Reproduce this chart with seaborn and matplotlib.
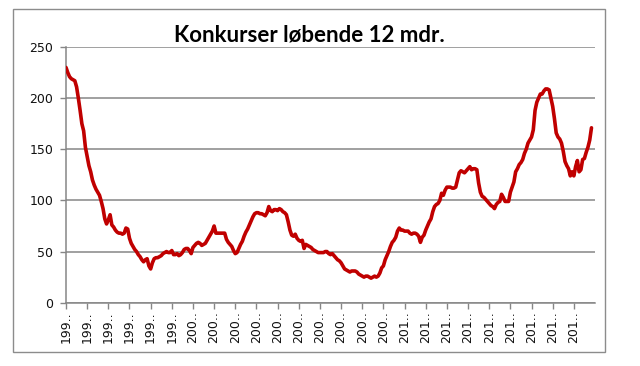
import matplotlib
matplotlib.use("Agg")
import matplotlib.pyplot as plt
import seaborn as sns
import pandas as pd
from matplotlib.patches import Rectangle

title = "Konkurser løbende 12 mdr."

# monthly values (running 12-month count)
values_1990s = [
    230, 225, 221, 219, 218, 217, 211, 200, 188, 175, 168, 152,
    143, 134, 128, 120, 115, 111, 108, 105, 99, 92, 82, 77,
    81, 86, 76, 74, 71, 69, 68, 68, 67, 68, 73, 72,
    63, 58, 55, 52, 50, 47, 45, 42, 40, 42, 43, 36,
    33, 39, 43, 44, 44, 45, 46, 48, 49, 50, 49, 49,
    51, 47, 47, 48, 46, 47, 49, 52, 53, 53, 51, 48,
]
values_2000s = [
    54, 56, 58, 59, 58, 56, 57, 58, 61, 64, 67, 70,
    75, 68, 68, 68, 68, 68, 68, 62, 59, 57, 55, 51,
    48, 49, 53, 57, 60, 65, 69, 72, 76, 80, 84, 87,
    88, 88, 87, 87, 86, 85, 88, 94, 90, 89, 91, 91,
    90, 92, 91, 89, 88, 86, 79, 71, 66, 65, 67, 63,
    61, 60, 61, 53, 57, 56, 55, 54, 52, 51, 50, 49,
    49, 49, 49, 50, 50, 48, 47, 48, 46, 44, 42, 41,
    39, 36, 33, 32, 31, 30, 31, 31, 31, 30, 28, 27,
    26, 25, 26, 26, 25, 24, 25, 26, 25, 26, 29, 34,
    36, 42, 46, 50, 55, 59, 61, 64, 70, 73, 71, 71,
]
values_2010s = [
    70, 70, 70, 68, 67, 68, 68, 67, 65, 59, 64, 66,
    71, 75, 79, 82, 89, 94, 96, 97, 100, 107, 105, 110,
    113, 113, 113, 112, 112, 113, 120, 127, 129, 128, 127, 129,
    131, 133, 130, 131, 131, 130, 117, 108, 104, 103, 101, 99,
    97, 95, 94, 92, 96, 98, 99, 106, 103, 99, 99, 99,
    108, 113, 118, 128, 131, 135, 137, 140, 146, 150, 156, 159,
    162, 169, 188, 196, 200, 204, 204, 207, 209, 209, 208, 200,
    192, 180, 166, 162, 160, 156, 148, 138, 134, 131, 124, 128,
    124, 133, 139, 128, 130, 140, 141, 147, 152, 159, 171,
]

tick_labels = ["199.."] * 6 + ["200.."] * 10 + ["201.."] * 9
y_ticks = [0, 50, 100, 150, 200, 250]

values = values_1990s + values_2000s + values_2010s
df = pd.DataFrame({"month": range(len(values)), "konkurser": values})

sns.set_style("white")
plt.rcParams["font.family"] = ["DejaVu Sans"]

W, H = 640, 366
fig = plt.figure(figsize=(W / 100, H / 100), dpi=100)
left, right, top, bottom = 66, 595, 47, 302.7
ax = fig.add_axes([left / W, 1 - bottom / H, (right - left) / W, (bottom - top) / H])

sns.lineplot(data=df, x="month", y="konkurser", ax=ax, color="#C00000",
             linewidth=2.6, zorder=3)

ax.set_xlim(0, 300)
ax.set_ylim(0, 250)
ax.set_yticks(y_ticks)
ax.set_yticklabels([str(v) for v in y_ticks])
ax.set_xticks(range(0, 12 * len(tick_labels), 12))
ax.set_xticklabels(tick_labels, rotation=90)
ax.set_xlabel("")
ax.set_ylabel("")

ax.yaxis.grid(True, color="#868686", linewidth=1.1)
ax.xaxis.grid(False)
for s in ["top", "right"]:
    ax.spines[s].set_visible(False)
for s in ["left", "bottom"]:
    ax.spines[s].set_color("#868686")
    ax.spines[s].set_linewidth(1.1)

ax.tick_params(axis="y", direction="out", length=4, width=1, color="#868686",
               labelsize=9, pad=5, labelcolor="#111111", left=True)
ax.tick_params(axis="x", direction="out", length=4, width=1, color="#868686",
               labelsize=9, pad=2, labelcolor="#111111", bottom=True)

fig.text(309 / W, 1 - 35 / H, title, ha="center", va="center", color="black",
         fontsize=16, fontweight="bold", family=["Lato", "DejaVu Sans"])

fig.add_artist(Rectangle((13 / W, 1 - 352 / H), (605 - 13) / W, (352 - 9) / H,
                         transform=fig.transFigure, fill=False,
                         edgecolor="#8c8c8c", linewidth=1))

fig.savefig("out.png", dpi=100)
